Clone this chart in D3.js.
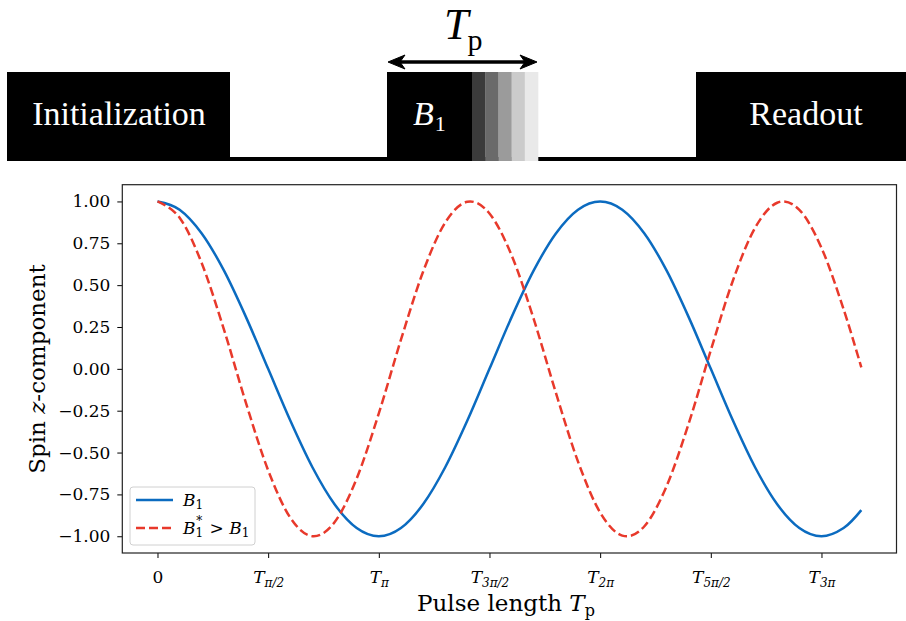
<!DOCTYPE html>
<html>
<head>
<meta charset="utf-8">
<script src="https://cdn.jsdelivr.net/npm/d3@7"></script>
<style>
  body { margin: 0; background: #fff; }
  svg { display: block; }
</style>
</head>
<body>
<div id="chart"></div>
<script>
'use strict';

// pulse phase, in units of pi
const phase = [0, 0.1, 0.2, 0.3, 0.4, 0.5, 0.6, 0.7, 0.8, 0.9, 1.0, 1.1, 1.2, 1.3, 1.4, 1.5,
  1.6, 1.7, 1.8, 1.9, 2.0, 2.1, 2.2, 2.3, 2.4, 2.5, 2.6, 2.7, 2.8, 2.9, 3.0, 3.1, 3.18];

// spin z-component, nominal field
const spinB1 = [1.00, 0.951, 0.809, 0.588, 0.309, 0.000, -0.309, -0.588, -0.809, -0.951, -1.00,
  -0.951, -0.809, -0.588, -0.309, 0.000, 0.309, 0.588, 0.809, 0.951, 1.00, 0.951, 0.809, 0.588,
  0.309, 0.000, -0.309, -0.588, -0.809, -0.951, -1.00, -0.951, -0.844];

// spin z-component, stronger field
const spinB1star = [1.00, 0.903, 0.631, 0.236, -0.205, -0.606, -0.889, -1.00, -0.916, -0.655, -0.266,
  0.174, 0.580, 0.874, 0.998, 0.928, 0.678, 0.297, -0.143, -0.554, -0.858, -0.996, -0.940, -0.701,
  -0.327, 0.111, 0.528, 0.842, 0.992, 0.950, 0.723, 0.356, 0.009];

const xTickPhases = [0, 0.5, 1, 1.5, 2, 2.5, 3];
const xTickSubs = ['', 'π/2', 'π', '3π/2', '2π', '5π/2', '3π'];
const yTickValues = [1, 0.75, 0.5, 0.25, 0, -0.25, -0.5, -0.75, -1];

const fadeShades = ['#3b3b3b', '#6a6a6a', '#9b9b9b', '#cbcbcb', '#e9e9e9'];

var W = 906, H = 621;
var plotL = 122.3, plotR = 896.5, plotT = 184.7, plotB = 553;
var serif = "'DejaVu Serif', serif";
var times = "'Liberation Serif', 'Times New Roman', serif";
var blue = '#0b6bc0', red = '#e8392b';

var svg = d3.select('#chart').append('svg')
  .attr('width', W)
  .attr('height', H);

// ---------- pulse sequence sketch ----------
var seq = svg.append('g');
var boxTop = 72, boxBot = 161;

seq.append('rect').attr('x', 7).attr('y', 157).attr('width', W - 7).attr('height', 4).attr('fill', '#000');
seq.append('rect').attr('x', 7).attr('y', boxTop).attr('width', 223).attr('height', boxBot - boxTop).attr('fill', '#000');
seq.append('rect').attr('x', 696).attr('y', boxTop).attr('width', W - 696).attr('height', boxBot - boxTop).attr('fill', '#000');
seq.append('rect').attr('x', 387).attr('y', boxTop).attr('width', 85).attr('height', boxBot - boxTop).attr('fill', '#000');

var bandW = 66 / fadeShades.length;
seq.selectAll('rect.fade')
  .data(fadeShades)
  .enter().append('rect')
  .attr('class', 'fade')
  .attr('x', (d, i) => 472 + i * bandW)
  .attr('y', boxTop)
  .attr('width', bandW + 0.3)
  .attr('height', boxBot - boxTop)
  .attr('fill', d => d);

seq.append('text')
  .attr('x', 119).attr('y', 125)
  .attr('text-anchor', 'middle')
  .attr('font-family', times).attr('font-size', 34)
  .attr('fill', '#fff')
  .text('Initialization');

seq.append('text')
  .attr('x', 806).attr('y', 125)
  .attr('text-anchor', 'middle')
  .attr('font-family', times).attr('font-size', 34)
  .attr('fill', '#fff')
  .text('Readout');

var b1 = seq.append('text')
  .attr('x', 413).attr('y', 125)
  .attr('font-family', times).attr('font-size', 34)
  .attr('fill', '#fff');
b1.append('tspan').attr('font-style', 'italic').text('B');
b1.append('tspan').attr('font-size', 22).attr('dy', 6).attr('dx', 1).text('1');

var tp = seq.append('text')
  .attr('x', 444).attr('y', 39)
  .attr('font-family', times).attr('font-size', 44)
  .attr('fill', '#000');
tp.append('tspan').attr('font-style', 'italic').text('T');
tp.append('tspan').attr('font-size', 30).attr('dy', 11).attr('dx', -1).text('p');

// double arrow over the pulse
var ay = 62, ax0 = 388, ax1 = 537;
seq.append('line')
  .attr('x1', ax0 + 8).attr('x2', ax1 - 8)
  .attr('y1', ay).attr('y2', ay)
  .attr('stroke', '#000').attr('stroke-width', 3.5);
seq.append('path')
  .attr('d', `M${ax0},${ay} L${ax0 + 17},${ay - 7} L${ax0 + 12},${ay} L${ax0 + 17},${ay + 7} Z`)
  .attr('fill', '#000').attr('stroke', '#000').attr('stroke-width', 1);
seq.append('path')
  .attr('d', `M${ax1},${ay} L${ax1 - 17},${ay - 7} L${ax1 - 12},${ay} L${ax1 - 17},${ay + 7} Z`)
  .attr('fill', '#000').attr('stroke', '#000').attr('stroke-width', 1);

// ---------- oscillation plot ----------
var tMax = d3.max(phase), pad = 0.05 * tMax;
var x = d3.scaleLinear().domain([-pad, tMax + pad]).range([plotL, plotR]);
var y = d3.scaleLinear().domain([-1.1, 1.1]).range([plotB, plotT]);

var plot = svg.append('g');

var xAxis = d3.axisBottom(x).tickValues(xTickPhases).tickSize(5).tickFormat('');
var gx = plot.append('g')
  .attr('transform', 'translate(0,' + plotB + ')')
  .call(xAxis);
gx.select('.domain').remove();
gx.selectAll('.tick line').attr('stroke', '#000').attr('stroke-width', 1);

gx.selectAll('.tick').each(function(d, i) {
  var t = d3.select(this).append('text')
    .attr('y', 30)
    .attr('fill', '#000')
    .attr('font-family', serif)
    .attr('font-size', 17)
    .attr('text-anchor', 'middle');
  if (xTickSubs[i] === '') {
    t.text('0');
  } else {
    t.append('tspan').attr('font-style', 'italic').text('T');
    t.append('tspan').attr('font-size', 12).attr('font-style', 'italic').attr('dy', 4).text(xTickSubs[i]);
  }
});

var yAxis = d3.axisLeft(y).tickValues(yTickValues).tickSize(5).tickFormat(d3.format('.2f'));
var gy = plot.append('g')
  .attr('transform', 'translate(' + plotL + ',0)')
  .call(yAxis);
gy.select('.domain').remove();
gy.selectAll('.tick line').attr('stroke', '#000').attr('stroke-width', 1);
gy.selectAll('.tick text')
  .attr('x', -12)
  .attr('fill', '#000')
  .attr('font-family', serif)
  .attr('font-size', 17)
  .text(d => d3.format('.2f')(d).replace('-', '\u2212'));

// curves
var line = d3.line()
  .x((d, i) => x(phase[i]))
  .y(d => y(d))
  .curve(d3.curveCardinal.tension(0));

plot.append('path')
  .datum(spinB1)
  .attr('d', line)
  .attr('fill', 'none')
  .attr('stroke', blue)
  .attr('stroke-width', 2.5);

plot.append('path')
  .datum(spinB1star)
  .attr('d', line)
  .attr('fill', 'none')
  .attr('stroke', red)
  .attr('stroke-width', 2.5)
  .attr('stroke-dasharray', '9,4');

// frame
plot.append('rect')
  .attr('x', plotL).attr('y', plotT)
  .attr('width', plotR - plotL).attr('height', plotB - plotT)
  .attr('fill', 'none')
  .attr('stroke', '#222')
  .attr('stroke-width', 1.2);

// axis labels
var xl = plot.append('text')
  .attr('x', 506).attr('y', 611)
  .attr('text-anchor', 'middle')
  .attr('font-family', serif).attr('font-size', 23)
  .attr('fill', '#000');
xl.append('tspan').text('Pulse length ');
xl.append('tspan').attr('font-style', 'italic').text('T');
xl.append('tspan').attr('font-size', 16).attr('dy', 5).text('p');

var yl = plot.append('text')
  .attr('transform', 'translate(45,' + 369 + ') rotate(-90)')
  .attr('text-anchor', 'middle')
  .attr('font-family', serif).attr('font-size', 23)
  .attr('fill', '#000');
yl.append('tspan').text('Spin ');
yl.append('tspan').attr('font-style', 'italic').text('z');
yl.append('tspan').text('-component');

// legend
var lg = plot.append('g').attr('transform', 'translate(130,487)');
lg.append('rect')
  .attr('width', 125).attr('height', 58)
  .attr('rx', 3)
  .attr('fill', '#fff').attr('fill-opacity', 0.8)
  .attr('stroke', '#d0d0d0').attr('stroke-width', 1);

lg.append('line')
  .attr('x1', 6).attr('x2', 43).attr('y1', 13).attr('y2', 13)
  .attr('stroke', blue).attr('stroke-width', 2.5);
lg.append('line')
  .attr('x1', 6).attr('x2', 43).attr('y1', 41).attr('y2', 41)
  .attr('stroke', red).attr('stroke-width', 2.5)
  .attr('stroke-dasharray', '9,4');

var l1 = lg.append('text')
  .attr('x', 53).attr('y', 19)
  .attr('font-family', serif).attr('font-size', 17).attr('fill', '#000');
l1.append('tspan').attr('font-style', 'italic').text('B');
l1.append('tspan').attr('font-size', 12).attr('dy', 3).text('1');

var l2 = lg.append('text')
  .attr('x', 53).attr('y', 47)
  .attr('font-family', serif).attr('font-size', 17).attr('fill', '#000');
l2.append('tspan').attr('font-style', 'italic').text('B');
l2.append('tspan').attr('font-size', 12).attr('dy', 3).text('1');
l2.append('tspan').attr('font-size', 12).attr('dx', -7).attr('dy', -12).text('*');
l2.append('tspan').attr('dy', 9).attr('dx', 2).text(' > ');
l2.append('tspan').attr('font-style', 'italic').text('B');
l2.append('tspan').attr('font-size', 12).attr('dy', 3).text('1');
</script>
</body>
</html>
